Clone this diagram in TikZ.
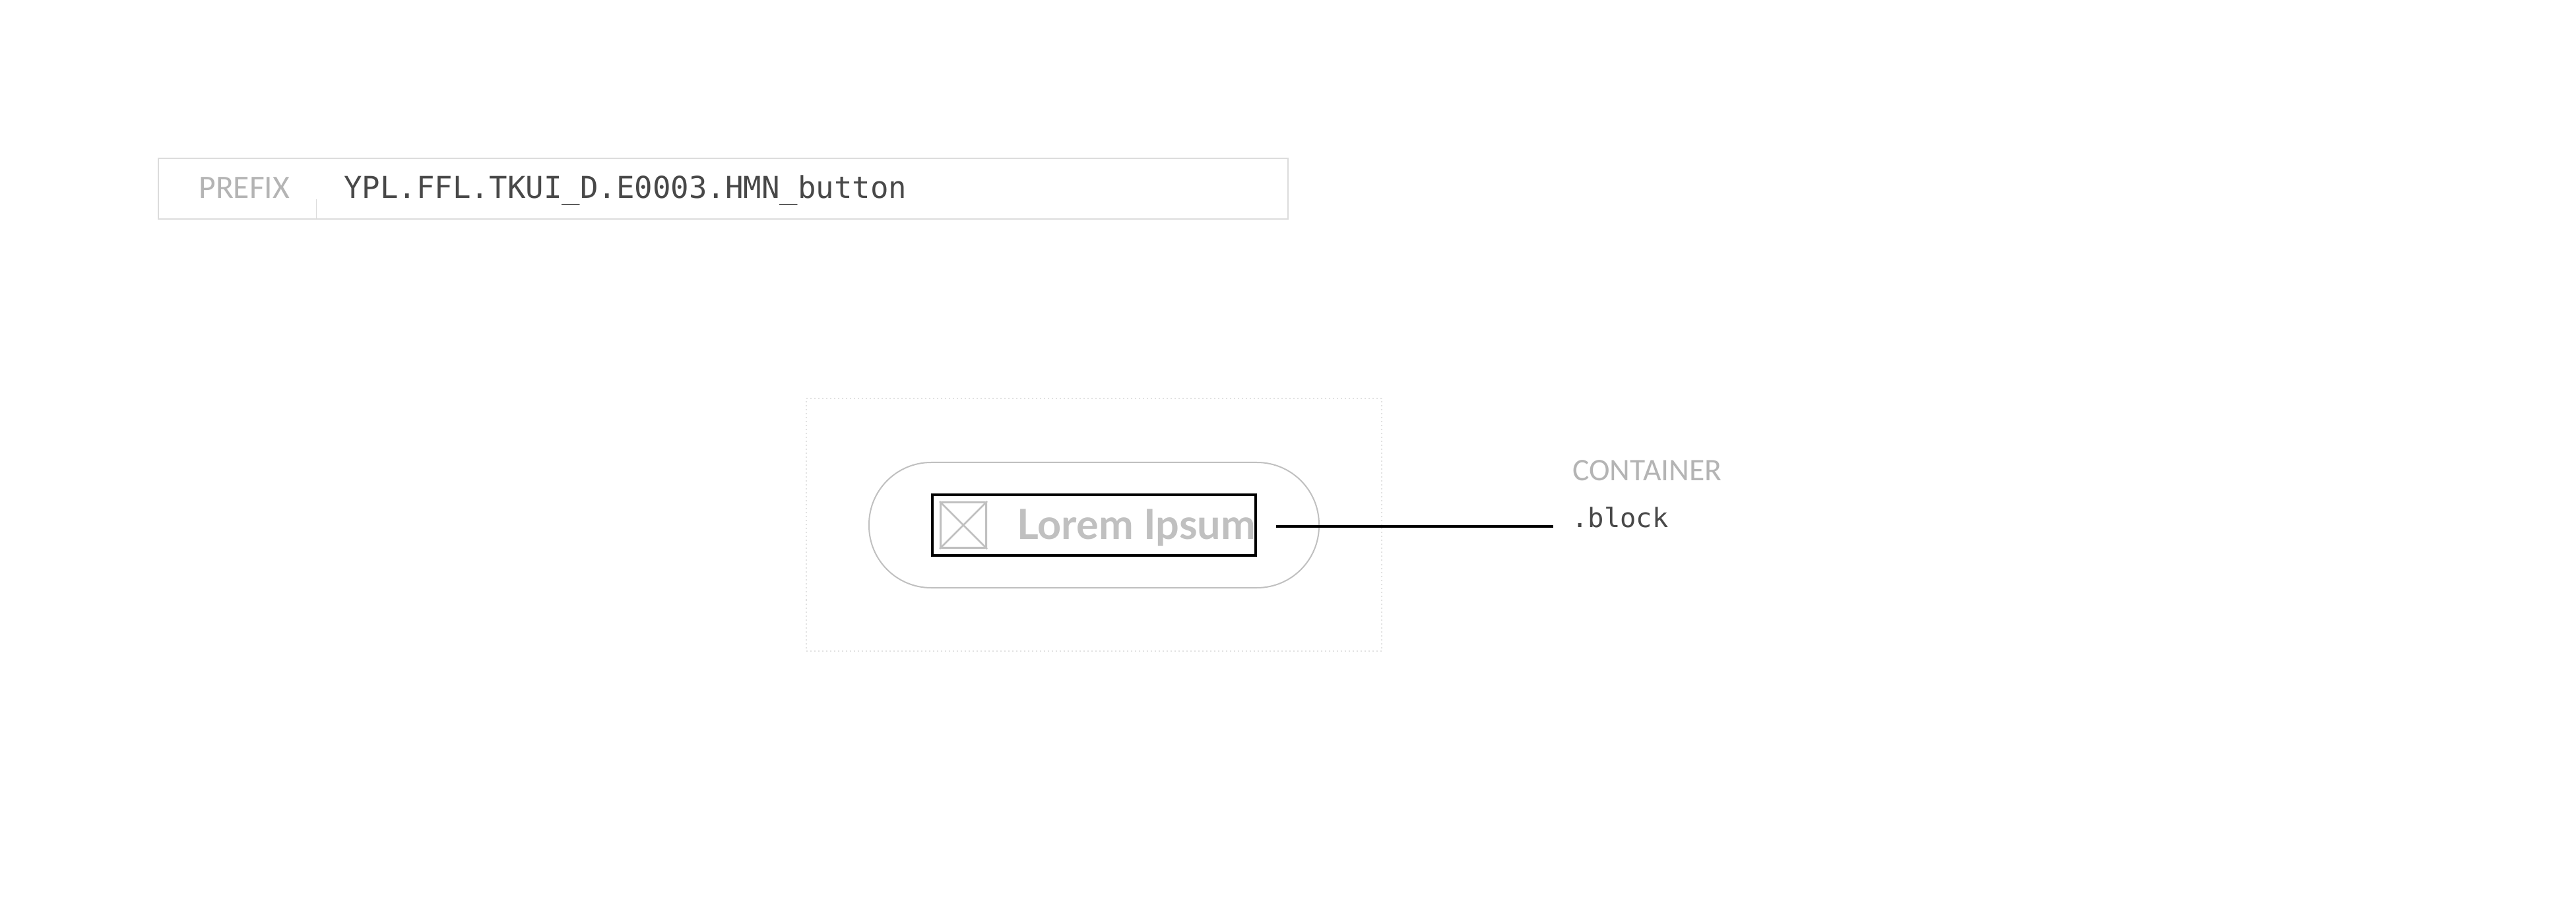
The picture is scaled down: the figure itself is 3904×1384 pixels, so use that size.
\documentclass[tikz,border=0pt]{standalone}
\usepackage{fontspec}
\newfontfamily\labelfont{Carlito}
\newfontfamily\codefont{DejaVu Sans Mono}
\newfontfamily\btnfont{Lato}
\usetikzlibrary{positioning}
\definecolor{palegray}{HTML}{DCDCDC}
\definecolor{softgray}{HTML}{C0C0C0}
\definecolor{labelgray}{HTML}{B4B4B4}
\definecolor{codegray}{HTML}{484848}
\tikzset{
  barbox/.style={draw=palegray,line width=1pt,minimum width=856pt,minimum height=46pt,inner sep=0pt},
  framebox/.style={draw=palegray!85,line width=1pt,dotted,minimum width=436pt,minimum height=191pt,inner sep=0pt},
  pillbox/.style={draw=softgray,line width=1pt,rounded corners=47pt,minimum width=341pt,minimum height=95pt,inner sep=0pt},
  blockbox/.style={draw=black,line width=2pt,minimum width=245pt,minimum height=46pt,inner sep=0pt},
  iconbox/.style={draw=softgray,line width=1.5pt,rounded corners=1pt,minimum width=34.5pt,minimum height=34.5pt,inner sep=0pt},
  tag/.style={anchor=base west,inner sep=0pt,text=labelgray,font=\labelfont\fontsize{23.8pt}{28pt}\selectfont},
  code/.style={anchor=base west,inner sep=0pt,text=codegray,font=\codefont\fontsize{22.85pt}{27pt}\selectfont},
  leader/.style={draw=black,line width=2pt}
}
\begin{document}
\begin{tikzpicture}[x=0.5pt,y=-0.5pt]
   \useasboundingbox (0,0) rectangle (3904,1384);
   \node[barbox] (bar) at (1096,286) {};
   \node[tag,font=\labelfont\fontsize{24.8pt}{28pt}\selectfont] (prefix) at (301,301) {PREFIX};
   \node[code] (name) at (521,301) {YPL.FFL.TKUI\_D.E0003.HMN\_button};
   \coordinate (divtop) at (479.5,302);
   \draw[draw=palegray,line width=0.8pt] (divtop) -- (divtop |- bar.south);

   \node[framebox] (frame) at (1657.5,795.5) {};
   \node[pillbox] (pill) at (1658,796) {};
   \node[blockbox] (block) at (pill) {};
   \node[iconbox] (icon) at (1460,796) {};
   \draw[draw=softgray,line width=1.4pt] (icon.north west) -- (icon.south east);
   \draw[draw=softgray,line width=1.4pt] (icon.north east) -- (icon.south west);
   \node[anchor=base west,inner sep=0pt,text=softgray,font=\btnfont\bfseries\fontsize{31.5pt}{36pt}\selectfont] (text) at (1541,818) {Lorem Ipsum};

   \node[tag] (container) at (2383,729) {CONTAINER};
   \node[code,font=\codefont\fontsize{20.2pt}{25pt}\selectfont] (blockname) at (2382,800) {.block};
   \coordinate (leadstart) at (1934,798);
   \coordinate (leadend) at (2354,798);
   \draw[leader] (leadstart) -- (leadend);
\end{tikzpicture}
\end{document}
